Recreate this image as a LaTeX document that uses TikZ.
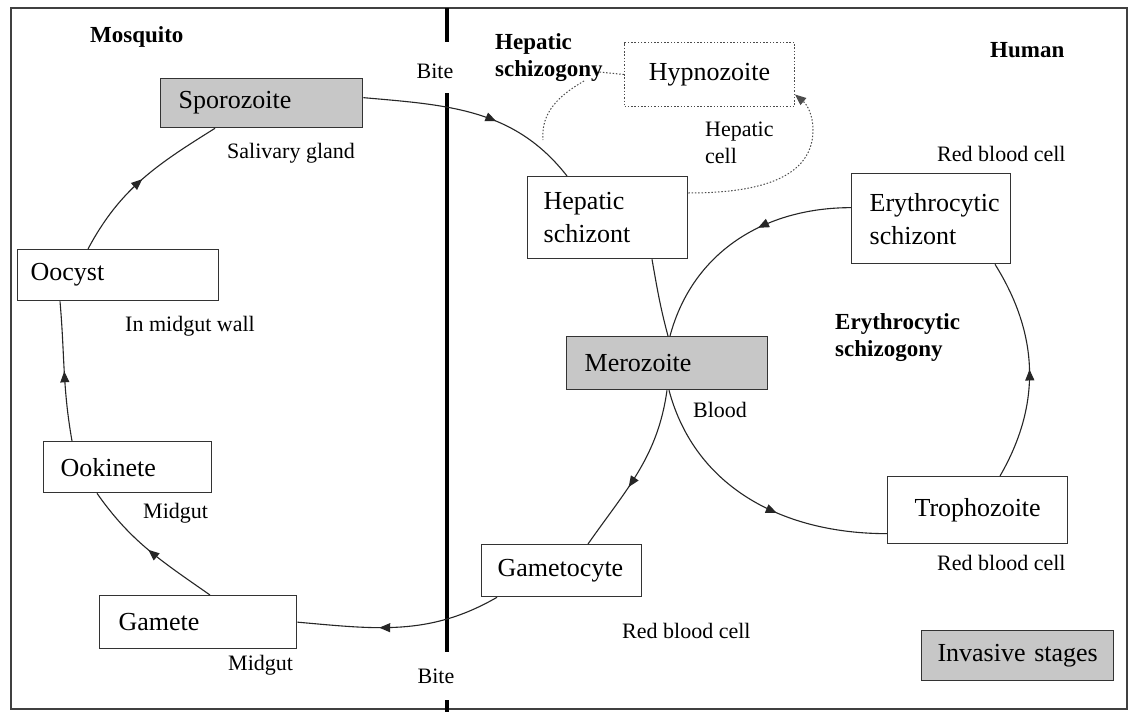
\documentclass[tikz,border=0pt]{standalone}
\usepackage{fontspec}
\setmainfont{Liberation Serif}
\usetikzlibrary{arrows.meta,decorations.markings}
\begin{document}
\begin{tikzpicture}[x=1pt,y=1pt,
  box/.style={draw=black!80, line width=1.3pt, rectangle, anchor=north west, inner ysep=0pt, align=left, font=\fontsize{26}{33}\selectfont},
  inv/.style={box, fill=black!22},
  lbl/.style={anchor=west, inner sep=0pt, font=\fontsize{22}{27}\selectfont, align=left},
  blbl/.style={anchor=west, inner sep=0pt, font=\fontsize{23}{27}\selectfont\bfseries, align=left},
  cyc/.style={draw=black!85, line width=1.1pt},
  midarrow/.style={postaction={decorate}, decoration={markings, mark=at position #1 with {\arrow{Triangle[length=11pt,width=9pt]}}}},
  dots/.style={draw=black!70, line width=1pt, dash pattern=on 1.5pt off 1.8pt},
]
\useasboundingbox (0,0) rectangle (1130,-712);
\fill[white] (0,0) rectangle (1130,-712);
\draw[line width=1.5pt, black!75] (11,-8) rectangle (1127,-709);

% divider
\node[lbl, anchor=center] (bt1) at (435,-71) {Bite};
\node[lbl, anchor=center] (bt2) at (436,-676) {Bite};
\draw[line width=4.5pt] (447,-8) -- (447,-42);
\draw[line width=4.5pt] (447,-93) -- (447,-652);
\draw[line width=4.5pt] (447,-700) -- (447,-712);

% headers
\node[blbl] (mosq) at (90,-37) {Mosquito};
\node[blbl] (hum) at (990,-50) {Human};

% boxes
\node[inv, minimum width=202pt, minimum height=49pt, text width=166pt, inner xsep=18pt] (sp) at (160,-78) {Sporozoite};
\node[box, minimum width=201pt, minimum height=51pt, text width=175pt, inner xsep=13pt] (oc) at (17,-249) {Oocyst};
\node[box, minimum width=168pt, minimum height=51pt, text width=134pt, inner xsep=17pt] (ok) at (43,-441) {Ookinete};
\node[box, minimum width=197pt, minimum height=53pt, text width=159pt, inner xsep=19pt] (gm) at (99,-595) {Gamete};
\node[box, minimum width=160pt, minimum height=52pt, text width=128pt, inner xsep=16pt] (gc) at (481,-544) {Gametocyte};
\node[inv, minimum width=201pt, minimum height=53pt, text width=165pt, inner xsep=18pt] (mz) at (566,-336) {Merozoite};
\node[box, minimum width=160pt, minimum height=82pt, text width=128pt, inner xsep=16pt] (hs) at (527,-176) {Hepatic\\schizont};
\node[box, minimum width=159pt, minimum height=90pt, text width=123pt, inner xsep=18pt] (es) at (851,-173) {Erythrocytic\\schizont};
\node[box, minimum width=180pt, minimum height=67pt, text width=150pt, inner xsep=15pt, align=center] (tz) at (887,-476) {Trophozoite};
\node[box, dots, minimum width=170pt, minimum height=64pt, text width=148pt, inner xsep=11pt, align=center] (hyp) at (624,-42) {Hypnozoite};
\node[inv, minimum width=192pt, minimum height=50pt, text width=172pt, inner xsep=10pt, align=center] (invs) at (921,-630) {Invasive stages};

% labels
\node[lbl] (l1) at (227,-153) {Salivary gland};
\node[lbl] (l2) at (125,-326) {In midgut wall};
\node[lbl] (l3) at (143,-513) {Midgut};
\node[lbl] (l4) at (228,-665) {Midgut};
\node[lbl] (l5) at (622,-631) {Red blood cell};
\node[lbl] (l6) at (693,-410) {Blood};
\node[lbl] (l7) at (937,-154) {Red blood cell};
\node[lbl] (l8) at (937,-563) {Red blood cell};
\node[lbl] (l9) at (705,-143) {Hepatic\\cell};
\node[blbl] (hsg) at (495,-58) {Hepatic\\schizogony};
\node[blbl] (esg) at (835,-338) {Erythrocytic\\schizogony};

% mosquito cycle
\draw[cyc, midarrow=0.6] ([xshift=16pt]gc.south west) to[out=-150, in=-5] (gm.east);
\draw[cyc, midarrow=0.5] ([xshift=111pt]gm.north west) to[out=145, in=-55] ([xshift=54pt]ok.south west);
\draw[cyc, midarrow=0.5] ([xshift=29pt]ok.north west) to[out=100, in=-85] ([xshift=43pt]oc.south west);
\draw[cyc, midarrow=0.5] ([xshift=71pt]oc.north west) to[out=62, in=-148] ([xshift=55pt]sp.south west);
\draw[cyc, midarrow=0.6] ([yshift=5.5pt]sp.east) to[out=-5, in=128] ([xshift=40pt]hs.north west);

% human cycle
\draw[cyc] ([xshift=125pt]hs.south west) to[out=-80, in=105] ([xshift=102pt]mz.north west);
\draw[cyc, midarrow=0.6] ([xshift=101pt]mz.south west) to[out=-98, in=55] ([xshift=107pt]gc.north west);
\draw[cyc, midarrow=0.6] ([xshift=103pt]mz.south west) to[out=-75, in=180] ([yshift=-23.5pt]tz.west);
\draw[cyc, midarrow=0.5] ([xshift=113pt]tz.north west) to[out=60, in=-58] ([xshift=144pt]es.south west);
\draw[cyc, midarrow=0.4] ([yshift=11pt]es.west) to[out=180, in=75] ([xshift=104pt]mz.north west);

% hepatic loop (dotted)
\coordinate (hj) at (543,-140);
\coordinate (hk) at (584,-81);
\draw[dots, -{Triangle[length=11pt,width=9pt]}] (hs.east |- 0,-193) to[out=0, in=-90] (813,-130) to[out=90, in=-40] ([yshift=-20pt]hyp.east);
\draw[dots] (hyp.west) -- (599,-72);
\draw[dots] (hk) to[out=-150, in=95] (hj);
\end{tikzpicture}
\end{document}
